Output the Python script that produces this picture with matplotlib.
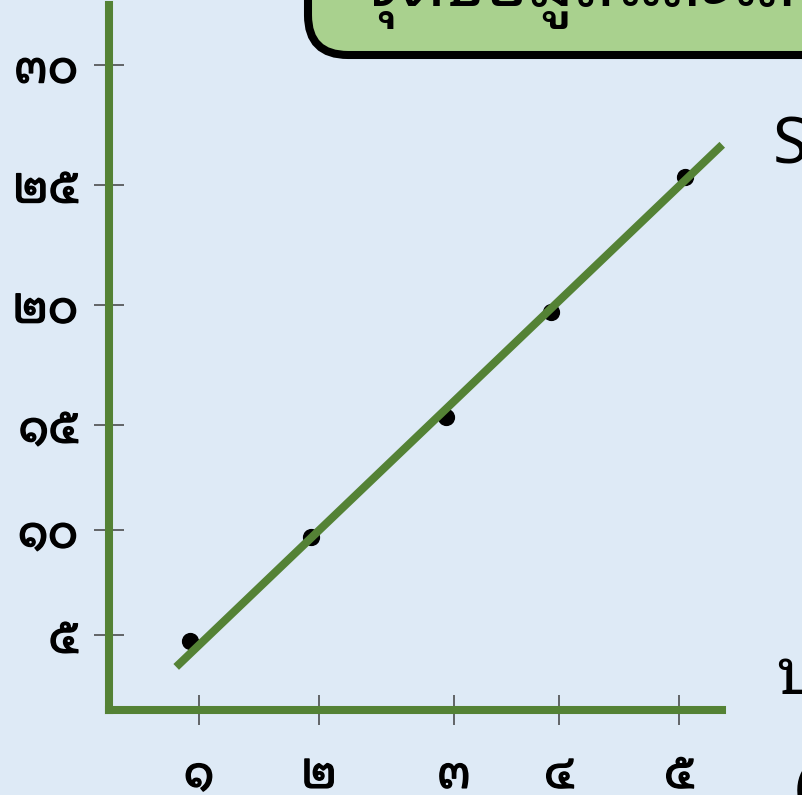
import matplotlib
matplotlib.use('Agg')
import matplotlib.pyplot as plt
import matplotlib.patheffects as pe
from matplotlib.patches import FancyBboxPatch

plt.rcParams['font.family'] = ['Noto Sans Thai Looped', 'Noto Sans', 'DejaVu Sans']

# data
x_pts = [0.925, 1.933, 3.058, 3.933, 5.05]
y_pts = [4.74, 9.30, 14.56, 19.17, 25.09]
trend_x = [0.81, 5.36]
trend_y = [3.6, 26.5]

x_ticks = [1, 2, 3.125, 4.0, 5.0]
x_labels = ['๑', '๒', '๓', '๔', '๕']
y_ticks = [5, 9.61, 14.21, 19.47, 24.74, 30]
y_labels = ['๕', '๑๐', '๑๕', '๒๐', '๒๕', '๓๐']
y_tick_colors = ['#404040', '#7196d6', '#404040', '#7196d6', '#404040', '#404040']

bg = '#deeaf6'
green = '#548235'

fig = plt.figure(figsize=(8.02, 7.95), dpi=100, facecolor=bg)
ax = fig.add_axes([109 / 802, 85 / 795, 613 / 802, 705 / 795])
ax.set_facecolor(bg)

ax.scatter(x_pts, y_pts, s=130, color='black', zorder=2, clip_on=False)
ax.plot(trend_x, trend_y, color=green, lw=5.8, solid_capstyle='butt', zorder=3, clip_on=False)

ax.set_xlim(0.25, 5.358)
ax.set_ylim(1.71, 32.63)

for s in ['top', 'right']:
    ax.spines[s].set_visible(False)
for s in ['left', 'bottom']:
    ax.spines[s].set_color(green)
    ax.spines[s].set_linewidth(5.8)
    ax.spines[s].set_capstyle('projecting')

ax.set_xticks(x_ticks)
ax.set_xticklabels(x_labels, fontweight='bold', fontsize=33)
ax.set_yticks(y_ticks)
ax.set_yticklabels(y_labels, fontweight='bold', fontsize=33)
ax.tick_params(axis='both', direction='inout', length=21.6, width=1.1,
               colors='#404040', labelcolor='black')
ax.tick_params(axis='y', pad=11.5)
ax.tick_params(axis='x', pad=20)
for t, c in zip(ax.yaxis.get_major_ticks(), y_tick_colors):
    t.tick1line.set_color(c)
# heavier digits like the slide font
heavy = [pe.withStroke(linewidth=1.1, foreground='black')]
for lab in ax.get_xticklabels() + ax.get_yticklabels():
    lab.set_path_effects(heavy)

# title box of the slide, cut off at the top
box = FancyBboxPatch((308 / 802, 1 - 55 / 795), 0.7, 0.2,
                     boxstyle='round,pad=0,rounding_size=0.05',
                     transform=fig.transFigure, facecolor='#a9d18e',
                     edgecolor='black', linewidth=5.8, zorder=5)
fig.patches.append(box)
fig.text(362 / 802, 1 - 6 / 795, 'จุดข้อมูลและเส้นแนวโน้ม', fontsize=52,
         fontweight='bold', va='baseline', ha='left', zorder=6)

# neighbouring slide text, cut off at the right
fig.text(773 / 802, 1 - 163 / 795, 'S', fontsize=46, va='baseline', ha='left')
fig.text(776 / 802, 1 - 694 / 795, 'บ', fontsize=46, va='baseline', ha='left')
fig.text(795 / 802, 1 - 805 / 795, '(', fontsize=40, va='baseline', ha='left')

fig.savefig('out.png', dpi=100, facecolor=bg)
